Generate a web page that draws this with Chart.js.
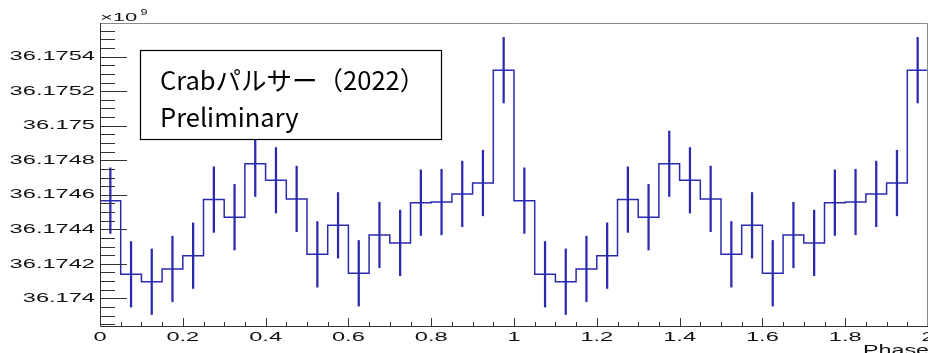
<!DOCTYPE html>
<html>
<head>
<meta charset="utf-8">
<script src="https://cdn.jsdelivr.net/npm/chart.js@4.4.1/dist/chart.umd.min.js"></script>
<style>
  html, body { margin: 0; padding: 0; background: #fff; }
  canvas { display: block; }
</style>
</head>
<body>
<canvas id="chart" width="928" height="353"></canvas>
<script>
// bin centres (phase), two cycles folded
const phaseCenters = [
  0.025, 0.075, 0.125, 0.175, 0.225, 0.275, 0.325, 0.375, 0.425, 0.475,
  0.525, 0.575, 0.625, 0.675, 0.725, 0.775, 0.825, 0.875, 0.925, 0.975,
  1.025, 1.075, 1.125, 1.175, 1.225, 1.275, 1.325, 1.375, 1.425, 1.475,
  1.525, 1.575, 1.625, 1.675, 1.725, 1.775, 1.825, 1.875, 1.925, 1.975
];
const binWidth = 0.05;

// counts in units of 1e9
const counts = [
  36.174566, 36.174139, 36.174096, 36.174170, 36.174247, 36.174572, 36.174470, 36.174780, 36.174684, 36.174576,
  36.174255, 36.174423, 36.174145, 36.174367, 36.174321, 36.174554, 36.174558, 36.174605, 36.174668, 36.175322,
  36.174566, 36.174139, 36.174096, 36.174170, 36.174247, 36.174572, 36.174470, 36.174780, 36.174684, 36.174576,
  36.174255, 36.174423, 36.174145, 36.174367, 36.174321, 36.174554, 36.174558, 36.174605, 36.174668, 36.175322
];
const errors = [
  0.00019, 0.00019, 0.00019, 0.00019, 0.00019, 0.00019, 0.00019, 0.00019, 0.00019, 0.00019,
  0.00019, 0.00019, 0.00019, 0.00019, 0.00019, 0.00019, 0.00019, 0.00019, 0.00019, 0.00019,
  0.00019, 0.00019, 0.00019, 0.00019, 0.00019, 0.00019, 0.00019, 0.00019, 0.00019, 0.00019,
  0.00019, 0.00019, 0.00019, 0.00019, 0.00019, 0.00019, 0.00019, 0.00019, 0.00019, 0.00019
];

const yTickValues = [36.174, 36.1742, 36.1744, 36.1746, 36.1748, 36.175, 36.1752, 36.1754];
const yTickLabels = ['36.174', '36.1742', '36.1744', '36.1746', '36.1748', '36.175', '36.1752', '36.1754'];
const xTickValues = [0, 0.2, 0.4, 0.6, 0.8, 1, 1.2, 1.4, 1.6, 1.8, 2];
const xTickLabels = ['0', '0.2', '0.4', '0.6', '0.8', '1', '1.2', '1.4', '1.6', '1.8', '2'];

const yMin = 36.1738337, yMax = 36.1755955;
const histColor = '#2a2ab0';

// step line through bin left edges, closing at the last right edge
const stepPoints = phaseCenters.map((c, i) => ({ x: c - binWidth / 2, y: counts[i] }));
stepPoints.push({ x: phaseCenters[phaseCenters.length - 1] + binWidth / 2, y: counts[counts.length - 1] });
const errPoints = phaseCenters.map((c, i) => ({ x: c, y: [counts[i] - errors[i], counts[i] + errors[i]] }));

// draws text stretched horizontally like the original bitmap
function wideText(ctx, txt, x, y, sx, align) {
  ctx.save();
  ctx.translate(x, y);
  ctx.scale(sx, 1);
  ctx.textAlign = align;
  ctx.fillText(txt, 0, 0);
  ctx.restore();
}

const rootFrame = {
  id: 'rootFrame',
  afterDraw(chart) {
    const ctx = chart.ctx, a = chart.chartArea;
    const xs = chart.scales.x, ys = chart.scales.y;
    ctx.save();

    // frame top / right
    ctx.strokeStyle = '#8a8a8a';
    ctx.lineWidth = 1;
    ctx.beginPath();
    ctx.moveTo(a.left, a.top + 0.5);
    ctx.lineTo(a.right - 0.5, a.top + 0.5);
    ctx.lineTo(a.right - 0.5, a.bottom);
    ctx.stroke();

    // axes
    ctx.strokeStyle = '#333';
    ctx.beginPath();
    ctx.moveTo(a.left + 0.5, a.top);
    ctx.lineTo(a.left + 0.5, a.bottom - 0.5);
    ctx.lineTo(a.right, a.bottom - 0.5);
    ctx.stroke();

    // y ticks
    ctx.beginPath();
    for (let k = -4; k <= 32; k++) {
      const v = 36.174 + k * 0.00005;
      if (v < yMin || v > yMax) continue;
      const py = Math.round(ys.getPixelForValue(v)) + 0.5;
      const len = (k % 4 === 0) ? 27 : 15;
      ctx.moveTo(a.left, py);
      ctx.lineTo(a.left + len, py);
    }
    // x ticks
    for (let k = 1; k <= 40; k++) {
      const px = Math.round(xs.getPixelForValue(k * 0.05)) + 0.5;
      const len = (k % 4 === 0) ? 9 : 5;
      ctx.moveTo(px, a.bottom);
      ctx.lineTo(px, a.bottom - len);
    }
    ctx.stroke();

    // tick labels
    ctx.fillStyle = '#111';
    ctx.font = '13.5px "Liberation Sans", Arial, sans-serif';
    ctx.textBaseline = 'middle';
    yTickValues.forEach((v, i) => {
      wideText(ctx, yTickLabels[i], 95, ys.getPixelForValue(v), 1.75, 'right');
    });
    xTickValues.forEach((v, i) => {
      wideText(ctx, xTickLabels[i], xs.getPixelForValue(v), a.bottom + 10, 1.75, 'center');
    });

    // axis title and exponent
    ctx.font = '15px "Liberation Sans", Arial, sans-serif';
    ctx.textBaseline = 'alphabetic';
    wideText(ctx, 'Phase', 929, 355, 1.55, 'right');
    ctx.font = '11px "Liberation Sans", Arial, sans-serif';
    wideText(ctx, '\u00d710', 100, 21, 2.0, 'left');
    ctx.font = '9px "Liberation Sans", Arial, sans-serif';
    wideText(ctx, '9', 140.5, 15, 1.4, 'left');

    // annotation box
    ctx.fillStyle = '#fff';
    ctx.fillRect(140, 50, 302, 90);
    ctx.strokeStyle = '#000';
    ctx.lineWidth = 1.2;
    ctx.strokeRect(140.5, 50.5, 301, 89);
    ctx.fillStyle = '#000';
    ctx.font = '25.5px "Noto Sans CJK JP", sans-serif';
    ctx.textAlign = 'left';
    ctx.fillText('Crabパルサー（2022）', 160, 90);
    ctx.fillText('Preliminary', 160, 127);

    ctx.restore();
  }
};

new Chart(document.getElementById('chart'), {
  type: 'bar',
  data: {
    datasets: [
      {
        type: 'line',
        data: stepPoints,
        stepped: 'before',
        borderColor: histColor,
        borderWidth: 1.5,
        pointRadius: 0,
        fill: false
      },
      {
        type: 'bar',
        data: errPoints,
        backgroundColor: histColor,
        borderWidth: 0,
        barThickness: 1.6
      }
    ]
  },
  options: {
    responsive: false,
    animation: false,
    layout: { padding: { left: 100, right: 0, top: 23, bottom: 26 } },
    plugins: { legend: { display: false }, tooltip: { enabled: false } },
    scales: {
      x: { type: 'linear', min: 0, max: 2, offset: false, display: false },
      y: { min: yMin, max: yMax, display: false }
    }
  },
  plugins: [rootFrame]
});
</script>
</body>
</html>
